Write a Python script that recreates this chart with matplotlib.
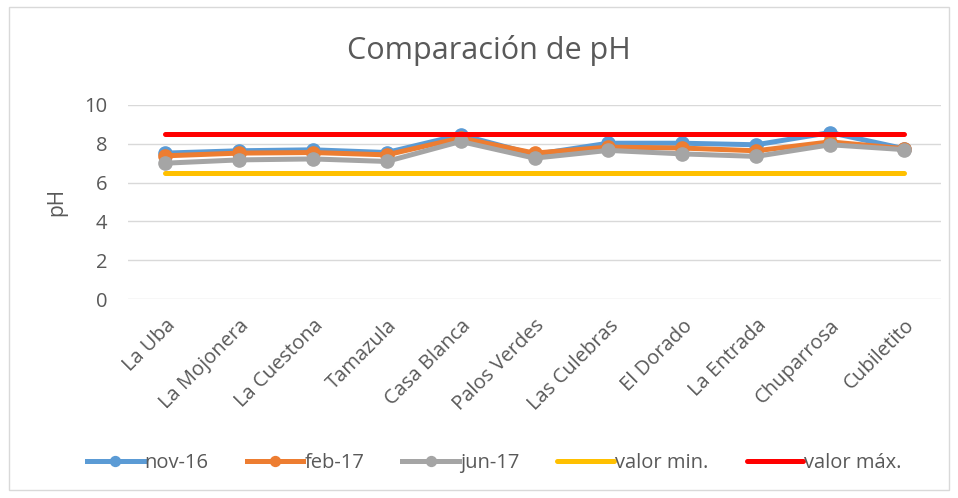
import matplotlib.pyplot as plt
from matplotlib.patches import Rectangle

plt.rcParams['font.family'] = ['Open Sans', 'DejaVu Sans']

# Datos
sitios = ['La Uba', 'La Mojonera', 'La Cuestona', 'Tamazula', 'Casa Blanca',
          'Palos Verdes', 'Las Culebras', 'El Dorado', 'La Entrada',
          'Chuparrosa', 'Cubiletito']
nov_16 = [7.52, 7.64, 7.69, 7.55, 8.46, 7.45, 8.03, 8.03, 7.95, 8.58, 7.75]
feb_17 = [7.38, 7.52, 7.55, 7.43, 8.30, 7.52, 7.83, 7.78, 7.64, 8.10, 7.75]
jun_17 = [7.00, 7.17, 7.22, 7.09, 8.12, 7.26, 7.66, 7.48, 7.35, 7.95, 7.70]
valor_min = [6.5] * len(sitios)
valor_max = [8.5] * len(sitios)

texto = '#595959'
x = range(len(sitios))

fig = plt.figure(figsize=(9.58, 4.98), dpi=100)
ax = fig.add_axes([128 / 958, 1 - 299 / 498, (941 - 128) / 958, (299 - 105) / 498])

ax.plot(x, nov_16, color='#5B9BD5', lw=3.6, marker='o', ms=9.5, label='nov-16')
ax.plot(x, feb_17, color='#ED7D31', lw=3.6, marker='o', ms=9.5, label='feb-17')
ax.plot(x, jun_17, color='#A5A5A5', lw=3.6, marker='o', ms=9.5, label='jun-17')
ax.plot(x, valor_min, color='#FFC000', lw=3.6, solid_capstyle='round', label='valor min.')
ax.plot(x, valor_max, color='#FF0000', lw=3.6, solid_capstyle='round', label='valor máx.')

ax.set_xlim(-0.5, len(sitios) - 0.5)
ax.set_ylim(0, 10)
ax.set_yticks(range(0, 11, 2))
ax.set_xticks(list(x))
ax.set_xticklabels(sitios, rotation=45, ha='right', rotation_mode='anchor')
ax.tick_params(colors=texto, labelsize=14.5, length=0)
ax.tick_params(axis='y', pad=15)
ax.tick_params(axis='x', pad=12)
ax.grid(axis='y', color='#D9D9D9', lw=1)
ax.set_axisbelow(True)
for s in ax.spines.values():
    s.set_visible(False)

ax.set_ylabel('pH', color=texto, fontsize=15, labelpad=12)
fig.text(0.51, 1 - 50 / 498, 'Comparación de pH', ha='center', va='center',
         fontsize=22, color=texto)

fig.legend(loc='center', bbox_to_anchor=(0.516, 1 - 463 / 498), ncol=5,
           frameon=False, fontsize=14.5, labelcolor=texto, handlelength=2.8,
           handletextpad=0.05, columnspacing=1.9, markerscale=0.75)

fig.patches.append(Rectangle((9 / 958, 8 / 498), 940 / 958, 483 / 498,
                             transform=fig.transFigure, fill=False,
                             ec='#D9D9D9', lw=1))

fig.savefig('out.png', dpi=100)
